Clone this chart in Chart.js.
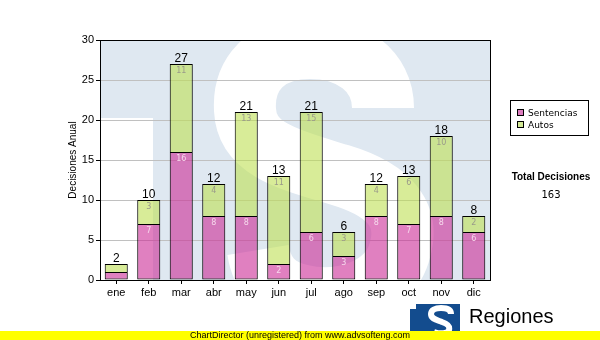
<!DOCTYPE html>
<html>
<head>
<meta charset="utf-8">
<script src="https://cdn.jsdelivr.net/npm/chart.js@4"></script>
<style>
body { margin: 0; background: #fff; }
#wrap { position: relative; width: 600px; height: 340px; overflow: hidden; font-family: 'Liberation Sans', Arial, sans-serif; }
#canvas { position: absolute; left: 0; top: 0; }
.legend { position: absolute; left: 510px; top: 100px; width: 77px; height: 34px; border: 1px solid #000; background: #fff; font: 9px 'DejaVu Sans', sans-serif; color: #000; }
.legend .item { position: absolute; left: 6px; height: 11px; line-height: 11px; white-space: nowrap; }
.legend .sw { display: inline-block; width: 5px; height: 5px; border: 1px solid #000; margin-right: 4px; vertical-align: 0px; }
.total-title { position: absolute; left: 490px; width: 122px; top: 171px; text-align: center; font: bold 10px 'Liberation Sans', Arial, sans-serif; }
.total-value { position: absolute; left: 490px; width: 122px; top: 189px; text-align: center; font: 10px 'DejaVu Sans', sans-serif; }
.brand { position: absolute; left: 469px; top: 306px; font: 20px 'Liberation Sans', Arial, sans-serif; line-height: 20px; color: #000; }
.logo { position: absolute; left: 410px; top: 304px; }
.footer { position: absolute; left: 0; top: 331px; width: 600px; height: 9px; background: #ffff00; }
.footer span { position: absolute; left: 190px; top: -1px; font: 9px 'Liberation Sans', Arial, sans-serif; line-height: 10px; white-space: nowrap; }
</style>
</head>
<body>
<div id="wrap">
  <canvas id="canvas" width="600" height="340"></canvas>
  <div class="legend">
    <div class="item" style="top:7px"><span class="sw" style="background:#dc7cbe"></span>Sentencias</div>
    <div class="item" style="top:19px"><span class="sw" style="background:#d4ea96"></span>Autos</div>
  </div>
  <div class="total-title">Total Decisiones</div>
  <div class="total-value" id="total"></div>
  <svg class="logo" width="50" height="30" viewBox="0 0 50 30">
    <rect x="0" y="0" width="50" height="30" fill="#134c8e"/>
    <rect x="0" y="0" width="6" height="5" fill="#fff"/>
    <path d="M41 10 C41 5 36 4 31 4 C25 4 21 6 21 10 C21 15 27 16 32 18 C38 20 40 22 39 26 C38 30 30 30 24 28" fill="none" stroke="#fff" stroke-width="6"/>
  </svg>
  <div class="brand">Regiones</div>
  <div class="footer"><span>ChartDirector (unregistered) from www.advsofteng.com</span></div>
</div>
<script>
var meses = ['ene', 'feb', 'mar', 'abr', 'may', 'jun', 'jul', 'ago', 'sep', 'oct', 'nov', 'dic'];
var sentencias = [1, 7, 16, 8, 8, 2, 6, 3, 8, 7, 8, 6];
var autos = [1, 3, 11, 4, 13, 11, 15, 3, 4, 6, 10, 2];
var yTicks = [0, 5, 10, 15, 20, 25, 30];

var totales = meses.map(function (m, i) { return sentencias[i] + autos[i]; });
var totalDecisiones = totales.reduce(function (a, b) { return a + b; }, 0);
document.getElementById('total').textContent = totalDecisiones;

Chart.defaults.font.family = "'Liberation Sans', Arial, sans-serif";

// big pale "S" logo behind the bars
const watermark = {
    id: 'watermark',
    beforeDraw(chart) {
        const ctx = chart.ctx;
        const a = chart.chartArea;
        const L = a.left, T = a.top;
        ctx.save();
        ctx.beginPath();
        ctx.rect(a.left, a.top, a.right - a.left, a.bottom - a.top);
        ctx.clip();
        ctx.fillStyle = '#dfe8f1';
        ctx.fillRect(a.left, a.top, a.right - a.left, a.bottom - a.top);
        ctx.fillStyle = '#fff';
        ctx.fillRect(L, T + 78, 53, a.bottom - T - 78);
        ctx.strokeStyle = '#fff';
        ctx.lineWidth = 62;
        ctx.beginPath();
        ctx.moveTo(L + 283, T + 68);
        ctx.bezierCurveTo(L + 283, T + 30, L + 250, T + 8, L + 210, T + 8);
        ctx.bezierCurveTo(L + 165, T + 8, L + 143, T + 35, L + 145, T + 70);
        ctx.bezierCurveTo(L + 147, T + 110, L + 190, T + 120, L + 240, T + 135);
        ctx.bezierCurveTo(L + 290, T + 150, L + 310, T + 175, L + 300, T + 210);
        ctx.bezierCurveTo(L + 290, T + 250, L + 240, T + 265, L + 200, T + 255);
        ctx.bezierCurveTo(L + 175, T + 249, L + 162, T + 235, L + 158, T + 210);
        ctx.stroke();
        ctx.restore();
    }
};

// frame around the plot and the value labels on each bar
const barLabels = {
    id: 'barLabels',
    afterDatasetsDraw(chart) {
        const ctx = chart.ctx;
        const a = chart.chartArea;
        ctx.save();
        ctx.strokeStyle = '#000';
        ctx.lineWidth = 1;
        ctx.strokeRect(a.left + 0.5, a.top + 0.5, a.right - a.left, a.bottom - a.top);

        const m0 = chart.getDatasetMeta(0).data;
        const m1 = chart.getDatasetMeta(1).data;
        ctx.textAlign = 'center';
        ctx.textBaseline = 'middle';
        ctx.font = "8px 'DejaVu Sans', sans-serif";
        for (let i = 0; i < meses.length; i++) {
            if (sentencias[i] >= 2) {
                ctx.fillStyle = '#f6d8ec';
                ctx.fillText(sentencias[i], m0[i].x, m0[i].y + 7);
            }
            if (autos[i] >= 2) {
                ctx.fillStyle = '#9a9a8a';
                ctx.fillText(autos[i], m1[i].x, m1[i].y + 7);
            }
        }
        ctx.fillStyle = '#000';
        ctx.textBaseline = 'alphabetic';
        ctx.font = "12px 'Liberation Sans', Arial, sans-serif";
        for (let i = 0; i < meses.length; i++) {
            ctx.fillText(totales[i], m1[i].x, m1[i].y - 2);
        }
        ctx.restore();
    }
};

var ctx = document.getElementById('canvas').getContext('2d');
var myChart = new Chart(ctx, {
    type: 'bar',
    data: {
        labels: meses,
        datasets: [
            {
                label: 'Sentencias',
                data: sentencias,
                backgroundColor: 'rgba(203,43,150,0.6)',
                borderColor: '#000',
                borderWidth: 1,
                borderSkipped: false,
                barPercentage: 0.71,
                categoryPercentage: 1
            },
            {
                label: 'Autos',
                data: autos,
                backgroundColor: 'rgba(190,223,83,0.6)',
                borderColor: '#000',
                borderWidth: 1,
                borderSkipped: 'start',
                barPercentage: 0.71,
                categoryPercentage: 1
            }
        ]
    },
    options: {
        responsive: false,
        animation: false,
        layout: { padding: { left: 67, right: 110, top: 40, bottom: 40 } },
        plugins: {
            legend: { display: false },
            tooltip: { enabled: false }
        },
        scales: {
            x: {
                stacked: true,
                grid: { offset: false, drawOnChartArea: false, tickLength: 4, tickColor: '#000' },
                border: { display: false },
                ticks: { color: '#000', font: { size: 11 }, padding: 2 },
                afterFit: function (s) { s.height = 20; }
            },
            y: {
                stacked: true,
                min: yTicks[0],
                max: yTicks[yTicks.length - 1],
                afterBuildTicks: function (s) { s.ticks = yTicks.map(function (v) { return { value: v }; }); },
                ticks: { color: '#000', font: { size: 11 }, padding: 2 },
                grid: { color: '#c0c0c0', tickColor: '#000', tickLength: 4 },
                border: { display: false },
                title: { display: true, text: 'Decisiones Anual', color: '#000', font: { size: 10 }, padding: 0 },
                afterFit: function (s) { s.width = 33; }
            }
        }
    },
    plugins: [watermark, barLabels]
});
</script>
</body>
</html>
